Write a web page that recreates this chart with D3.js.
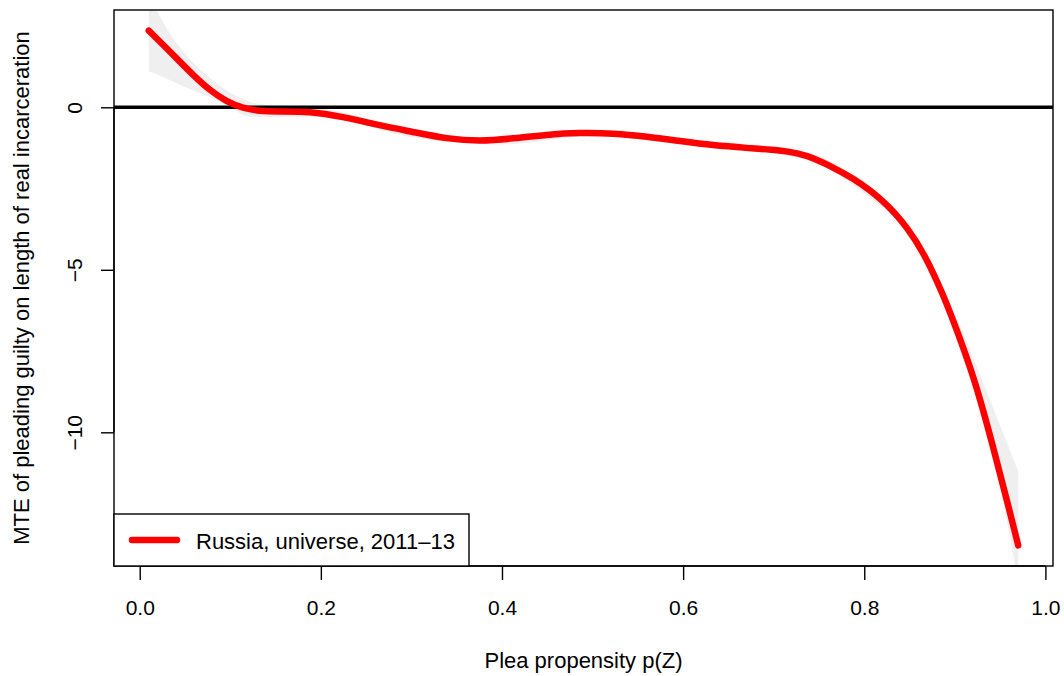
<!DOCTYPE html>
<html>
<head>
<meta charset="utf-8">
<script src="https://cdn.jsdelivr.net/npm/d3@7"></script>
<style>
  html, body { margin: 0; padding: 0; background: #fff; }
  svg { display: block; font-family: "Liberation Sans", Arial, sans-serif; }
</style>
</head>
<body>
<svg id="chart" width="1064" height="676"></svg>
<script>
// Marginal treatment effect curve over plea propensity
const propensity = [0.010, 0.041, 0.059, 0.077, 0.096, 0.114, 0.133, 0.151, 0.188, 0.224,
  0.262, 0.302, 0.339, 0.376, 0.412, 0.449, 0.486, 0.523, 0.560, 0.597,
  0.633, 0.670, 0.707, 0.726, 0.744, 0.762, 0.785, 0.821, 0.849, 0.867,
  0.886, 0.904, 0.923, 0.941, 0.959, 0.970];
const mte = [2.36, 1.50, 0.99, 0.53, 0.17, -0.03, -0.12, -0.13, -0.12, -0.29,
  -0.54, -0.76, -0.97, -1.05, -0.96, -0.84, -0.78, -0.80, -0.90, -1.04,
  -1.17, -1.25, -1.32, -1.41, -1.56, -1.80, -2.13, -2.84, -3.74, -4.55,
  -5.68, -6.98, -8.47, -10.31, -12.25, -13.48];

// Confidence band
const bandX = [0.01, 0.02, 0.04, 0.06, 0.08, 0.10, 0.12, 0.15, 0.20, 0.30, 0.40,
  0.50, 0.60, 0.70, 0.75, 0.80, 0.85, 0.88, 0.91, 0.94, 0.97];
const bandUpper = [3.4, 2.9, 2.0, 1.35, 0.85, 0.45, 0.18, 0.04, -0.04, -0.68, -0.95,
  -0.70, -0.98, -1.22, -1.50, -2.35, -3.65, -5.2, -7.0, -9.1, -11.2];
const bandLower = [1.1, 1.0, 0.75, 0.5, 0.28, 0.0, -0.28, -0.30, -0.28, -0.92, -1.14,
  -0.88, -1.14, -1.42, -1.75, -2.65, -3.95, -5.5, -7.6, -10.4, -14.6];

const xTicks = [0, 0.2, 0.4, 0.6, 0.8, 1.0];
const xTickLabels = ["0.0", "0.2", "0.4", "0.6", "0.8", "1.0"];
const yTicks = [0, -5, -10];
const yTickLabels = ["0", "\u22125", "\u221210"];
const seriesLabel = "Russia, universe, 2011\u201313";

const svg = d3.select("#chart");
const plot = { left: 114, right: 1053, top: 10, bottom: 566 };

// 4% padding on each side of the data range
function padded(ext) {
  const r = ext[1] - ext[0];
  return [ext[0] - 0.04 * r, ext[1] + 0.04 * r];
}
const x = d3.scaleLinear().domain(padded(d3.extent(propensity))).range([plot.left, plot.right]);
const y = d3.scaleLinear().domain(padded(d3.extent(mte))).range([plot.bottom, plot.top]);

svg.append("defs").append("clipPath").attr("id", "plotClip")
  .append("rect")
  .attr("x", plot.left).attr("y", plot.top)
  .attr("width", plot.right - plot.left).attr("height", plot.bottom - plot.top);

const inner = svg.append("g").attr("clip-path", "url(#plotClip)");

// band
const band = bandX.map((v, i) => ({ x: v, lo: bandLower[i], hi: bandUpper[i] }));
inner.append("path")
  .datum(band)
  .attr("fill", "#efefef")
  .attr("stroke", "none")
  .attr("d", d3.area().x(d => x(d.x)).y0(d => y(d.lo)).y1(d => y(d.hi)).curve(d3.curveMonotoneX));

// zero reference line
inner.append("line")
  .attr("x1", plot.left).attr("x2", plot.right)
  .attr("y1", y(0)).attr("y2", y(0))
  .attr("stroke", "#000").attr("stroke-width", 3.5);

// MTE curve
const pts = propensity.map((v, i) => ({ x: v, y: mte[i] }));
inner.append("path")
  .datum(pts)
  .attr("fill", "none")
  .attr("stroke", "#ff0000")
  .attr("stroke-width", 6.5)
  .attr("stroke-linecap", "round")
  .attr("stroke-linejoin", "round")
  .attr("d", d3.line().x(d => x(d.x)).y(d => y(d.y)).curve(d3.curveBasis));

// frame
svg.append("rect")
  .attr("x", plot.left).attr("y", plot.top)
  .attr("width", plot.right - plot.left).attr("height", plot.bottom - plot.top)
  .attr("fill", "none").attr("stroke", "#000").attr("stroke-width", 1.4);

// x axis
const xAxis = d3.axisBottom(x).tickValues(xTicks)
  .tickFormat((d, i) => xTickLabels[i]).tickSize(14).tickPadding(0).tickSizeOuter(0);
const gx = svg.append("g").attr("transform", `translate(0,${plot.bottom})`).call(xAxis);
gx.select(".domain")
  .attr("d", `M${x(xTicks[0])},0H${x(xTicks[xTicks.length - 1])}`)
  .attr("stroke-width", 1.4);
gx.selectAll(".tick line").attr("stroke-width", 1.4);
gx.selectAll(".tick text")
  .attr("dy", null).attr("y", 49)
  .attr("font-size", 21).attr("fill", "#000")
  .attr("font-family", "Liberation Sans, Arial, sans-serif");

// y axis
const yAxis = d3.axisLeft(y).tickValues(yTicks)
  .tickFormat((d, i) => yTickLabels[i]).tickSize(13).tickPadding(0).tickSizeOuter(0);
const gy = svg.append("g").attr("transform", `translate(${plot.left},0)`).call(yAxis);
gy.select(".domain")
  .attr("d", `M0,${y(yTicks[yTicks.length - 1])}V${y(yTicks[0])}`)
  .attr("stroke-width", 1.4);
gy.selectAll(".tick line").attr("stroke-width", 1.4);
gy.selectAll(".tick text")
  .attr("x", null).attr("dy", null)
  .attr("text-anchor", "middle")
  .attr("transform", "translate(-32.5,0) rotate(-90)")
  .attr("font-size", 21).attr("fill", "#000")
  .attr("font-family", "Liberation Sans, Arial, sans-serif");

// axis titles
svg.append("text")
  .attr("x", (plot.left + plot.right) / 2).attr("y", 668)
  .attr("text-anchor", "middle").attr("font-size", 22)
  .text("Plea propensity p(Z)");
svg.append("text")
  .attr("transform", `translate(29,${(plot.top + plot.bottom) / 2}) rotate(-90)`)
  .attr("text-anchor", "middle").attr("font-size", 22)
  .text("MTE of pleading guilty on length of real incarceration");

// legend
const lg = svg.append("g");
lg.append("rect")
  .attr("x", plot.left).attr("y", 514)
  .attr("width", 355).attr("height", plot.bottom - 514)
  .attr("fill", "#fff").attr("stroke", "#000").attr("stroke-width", 1.4);
lg.append("line")
  .attr("x1", 132).attr("x2", 177).attr("y1", 540).attr("y2", 540)
  .attr("stroke", "#ff0000").attr("stroke-width", 6.5).attr("stroke-linecap", "round");
lg.append("text")
  .attr("x", 196).attr("y", 549)
  .attr("font-size", 22)
  .text(seriesLabel);
</script>
</body>
</html>
